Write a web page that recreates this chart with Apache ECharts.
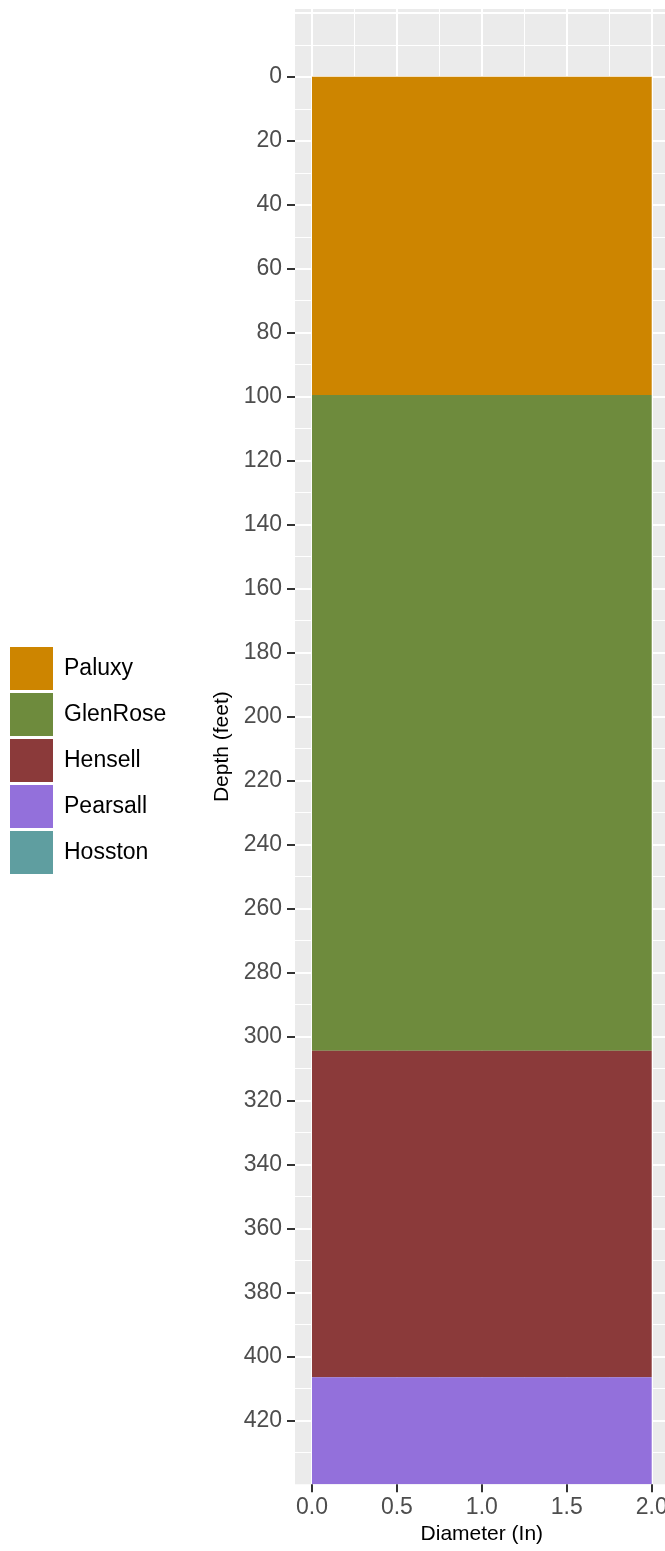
<!DOCTYPE html>
<html>
<head>
<meta charset="utf-8">
<script src="https://cdn.jsdelivr.net/npm/echarts@6/dist/echarts.min.js"></script>
<style>
  html, body { margin: 0; padding: 0; background: #ffffff; }
  #chart { width: 665px; height: 1551px; }
</style>
</head>
<body>
<div id="chart"></div>
<script>
// ---- data ----
const formations = ['Paluxy', 'GlenRose', 'Hensell', 'Pearsall', 'Hosston'];
const formationColors = ['#CD8500', '#6E8B3D', '#8B3A3A', '#9370DB', '#5F9EA0'];
// depth intervals (feet) visible in the picture; Hosston lies below the plotted range
const topDepth = [0, 99.5, 304.5, 406.5];
const bottomDepth = [99.5, 304.5, 406.5, 440];
const diameter = [2.0, 2.0, 2.0, 2.0];

const depthTicks = [0, 20, 40, 60, 80, 100, 120, 140, 160, 180, 200, 220, 240, 260, 280, 300, 320, 340, 360, 380, 400, 420];
const depthMinor = [-10, 10, 30, 50, 70, 90, 110, 130, 150, 170, 190, 210, 230, 250, 270, 290, 310, 330, 350, 370, 390, 410, 430];
const depthExtraMajor = [-20];
const diamTicks = [0, 0.5, 1.0, 1.5, 2.0];
const diamMinor = [0.25, 0.75, 1.25, 1.75];

const FONT = '"Liberation Sans", Arial, sans-serif';
const chart = echarts.init(document.getElementById('chart'), null, { renderer: 'canvas' });

const yCommon = { type: 'value', inverse: true, min: -21.2, max: 440 };
const xCommon = { type: 'value', min: -0.1, max: 2.1 };

function hiddenAxis(base, values, width, extra) {
  return Object.assign({}, base, {
    axisLine: { show: false },
    axisTick: { show: false, customValues: values },
    axisLabel: { show: false, customValues: values },
    splitLine: { show: true, lineStyle: { color: '#FFFFFF', width: width } }
  }, extra || {});
}

const series = formations.map((name, i) => {
  const data = [];
  if (i < topDepth.length) {
    data.push([diameter[i], topDepth[i], bottomDepth[i]]);
  }
  return {
    type: 'custom',
    name: name,
    xAxisIndex: 0,
    yAxisIndex: 0,
    clip: true,
    itemStyle: { color: formationColors[i] },
    encode: { x: [0], y: [1, 2] },
    data: data,
    renderItem: function (params, api) {
      const p0 = api.coord([0, api.value(1)]);
      const p1 = api.coord([api.value(0), api.value(2)]);
      return {
        type: 'rect',
        shape: { x: p0[0], y: p0[1], width: p1[0] - p0[0], height: p1[1] - p0[1] },
        style: { fill: formationColors[i] }
      };
    }
  };
});

chart.setOption({
  animation: false,
  backgroundColor: '#FFFFFF',
  textStyle: { fontFamily: FONT },
  grid: {
    left: 295, top: 9, width: 373.7, height: 1475.3,
    outerBoundsMode: 'none',
    containLabel: false,
    show: true, backgroundColor: '#EBEBEB', borderWidth: 0
  },
  legend: {
    orient: 'vertical',
    left: 10, top: 647,
    padding: 0,
    itemWidth: 43, itemHeight: 43, itemGap: 3,
    icon: 'rect',
    selectedMode: false,
    data: formations,
    textStyle: { fontSize: 23, color: '#000000', fontFamily: FONT, padding: [0, 0, 0, 6] }
  },
  xAxis: [
    Object.assign({}, xCommon, {
      position: 'bottom',
      name: 'Diameter (In)',
      nameLocation: 'middle',
      nameGap: 30,
      nameTextStyle: { fontSize: 21, color: '#000000', fontFamily: FONT },
      axisLine: { show: false, onZero: false },
      axisTick: { show: true, length: 8, customValues: diamTicks, lineStyle: { color: '#333333', width: 2 } },
      axisLabel: { show: true, customValues: diamTicks, margin: 12, fontSize: 23, color: '#4D4D4D', fontFamily: FONT,
        formatter: v => v.toFixed(1) },
      splitLine: { show: true, lineStyle: { color: '#FFFFFF', width: 2 } }
    }),
    hiddenAxis(xCommon, diamMinor, 1, { position: 'bottom', axisLine: { show: false, onZero: false } })
  ],
  yAxis: [
    Object.assign({}, yCommon, {
      position: 'left',
      name: 'Depth (feet)',
      nameLocation: 'middle',
      nameGap: 60,
      nameTextStyle: { fontSize: 21, color: '#000000', fontFamily: FONT },
      axisLine: { show: false, onZero: false },
      axisTick: { show: true, length: 8, customValues: depthTicks, lineStyle: { color: '#333333', width: 2 } },
      axisLabel: { show: true, customValues: depthTicks, margin: 13, fontSize: 23, color: '#4D4D4D', fontFamily: FONT },
      splitLine: { show: true, lineStyle: { color: '#FFFFFF', width: 2 } }
    }),
    hiddenAxis(yCommon, depthMinor, 1, { position: 'left', axisLine: { show: false, onZero: false } }),
    hiddenAxis(yCommon, depthExtraMajor, 2, { position: 'left', axisLine: { show: false, onZero: false } })
  ],
  series: series
});
</script>
</body>
</html>
